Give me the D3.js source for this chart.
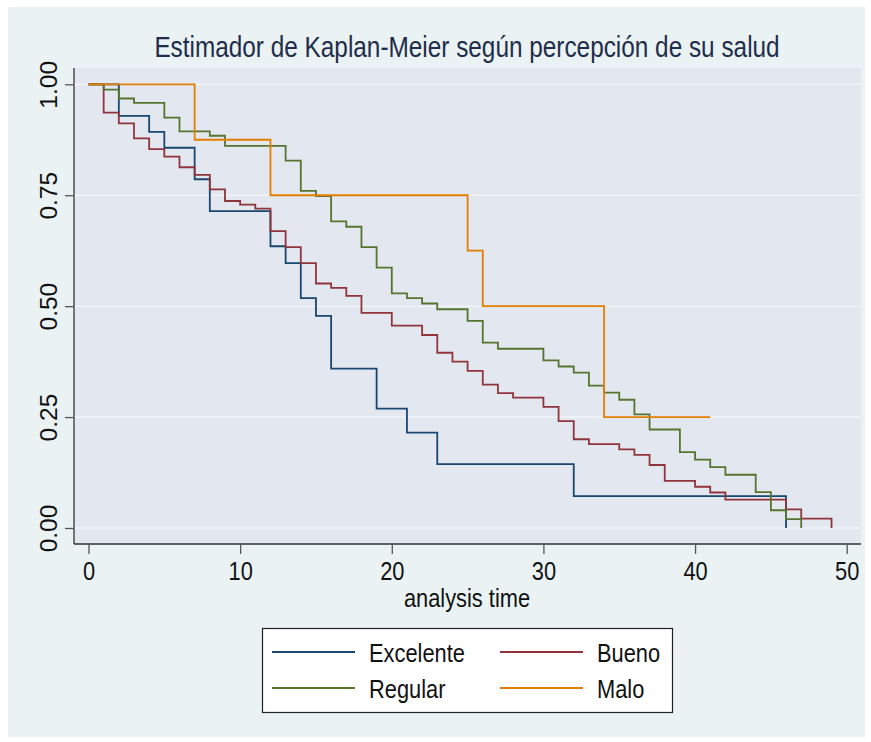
<!DOCTYPE html>
<html>
<head>
<meta charset="utf-8">
<script src="https://cdn.jsdelivr.net/npm/d3@7"></script>
<style>
  body { margin: 0; background: #ffffff; }
  svg text { font-family: "Liberation Sans", Arial, sans-serif; fill: #111; }
</style>
</head>
<body>
<script>
var w = 871;
var h = 742;

// survival estimates, [time, S(t)]
var excelente = [[0,1],[2,0.929],[4,0.893],[5,0.857],[7,0.786],[8,0.714],[12,0.635],[13,0.597],[14,0.518],
    [15,0.478],[16,0.359],[19,0.269],[21,0.215],[23,0.144],[32,0.072],[46,0]];
var bueno = [[0,1],[1,0.936],[2,0.912],[3,0.878],[4,0.854],[5,0.837],[6,0.813],[7,0.796],[8,0.763],[9,0.737],
    [10,0.729],[11,0.72],[12,0.669],[13,0.633],[14,0.597],[15,0.551],[16,0.541],[17,0.523],[18,0.485],
    [20,0.456],[22,0.435],[23,0.395],[24,0.375],[25,0.354],[26,0.323],[27,0.304],[28,0.294],[30,0.273],
    [31,0.241],[32,0.2],[33,0.189],[35,0.177],[36,0.165],[37,0.142],[38,0.106],[40,0.093],[41,0.08],
    [42,0.064],[46,0.042],[47,0.021],[49,0]];
var regular = [[0,1],[1,0.988],[2,0.968],[3,0.958],[5,0.925],[6,0.894],[8,0.884],[9,0.861],[13,0.828],
    [14,0.76],[15,0.748],[16,0.691],[17,0.679],[18,0.633],[19,0.587],[20,0.529],[21,0.518],[22,0.506],
    [23,0.493],[25,0.467],[26,0.418],[27,0.404],[30,0.378],[31,0.364],[32,0.35],[33,0.321],[34,0.305],
    [35,0.289],[36,0.256],[37,0.222],[39,0.171],[40,0.154],[41,0.137],[42,0.12],[44,0.081],[45,0.04],
    [46,0.02],[47,0]];
var malo = [[0,1],[7,0.875],[12,0.75],[25,0.625],[26,0.5],[34,0.25],[41,0.25]];

var groups = ['Excelente', 'Bueno', 'Regular', 'Malo'];
var colors = ['#1a476f', '#90353b', '#55752f', '#e37e00'];
var xTicks = [0, 10, 20, 30, 40, 50];
var yTicks = [0, 0.25, 0.5, 0.75, 1];

// horizontal texts in the original are squeezed sideways
var squeeze = 'scale(0.84,1)';

var svg = d3.select('body').append('svg').attr('width', w).attr('height', h);

// backgrounds
svg.append('rect').attr('x', 8).attr('y', 7).attr('width', 857).attr('height', 730).attr('fill', '#eaf2f3');
svg.append('rect').attr('x', 74).attr('y', 68).attr('width', 787).attr('height', 476).attr('fill', '#e2e7f0');

var x = d3.scaleLinear().domain([0, 50]).range([88.5, 846.7]);
var y = d3.scaleLinear().domain([0, 1]).range([528, 84.3]);

// grid
svg.selectAll('.grid').data(yTicks).enter().append('line')
    .attr('x1', 74).attr('x2', 861)
    .attr('y1', function(d) { return y(d); }).attr('y2', function(d) { return y(d); })
    .attr('stroke', '#f2f5f8').attr('stroke-width', 1.5);

// axes
var xAxis = svg.append('g').attr('transform', 'translate(0,544)')
    .call(d3.axisBottom(x).tickValues(xTicks).tickSize(10).tickSizeOuter(0));
xAxis.select('.domain').attr('d', 'M74,0H861').attr('stroke', '#333').attr('stroke-width', 1.3);
xAxis.selectAll('.tick line').attr('stroke', '#555').attr('stroke-width', 1.3);
xAxis.selectAll('.tick text').attr('y', 0).attr('dy', 0)
    .attr('transform', 'translate(0,36) ' + squeeze)
    .attr('font-size', 26).attr('font-family', null).attr('fill', '#111');

var yAxis = svg.append('g').attr('transform', 'translate(74,0)')
    .call(d3.axisLeft(y).tickValues(yTicks).tickFormat(d3.format('.2f')).tickSize(9).tickSizeOuter(0));
yAxis.select('.domain').attr('d', 'M0,68V544').attr('stroke', '#333').attr('stroke-width', 1.3);
yAxis.selectAll('.tick line').attr('stroke', '#555').attr('stroke-width', 1.3);
yAxis.selectAll('.tick text')
    .attr('x', null).attr('dy', 0).attr('text-anchor', 'middle')
    .attr('transform', 'translate(-17,0) rotate(-90)')
    .attr('font-size', 24.5).attr('font-family', null).attr('fill', '#111');

// curves
var line = d3.line()
    .x(function(d) { return x(d[0]); })
    .y(function(d) { return y(d[1]); })
    .curve(d3.curveStepAfter);

var series = [excelente, bueno, regular, malo];
svg.selectAll('.km').data(series).enter().append('path')
    .attr('d', line)
    .attr('fill', 'none')
    .attr('stroke', function(d, i) { return colors[i]; })
    .attr('stroke-width', 1.8);

// titles
svg.append('text').attr('transform', 'translate(467,57) ' + squeeze).attr('text-anchor', 'middle')
    .attr('font-size', 29).style('fill', '#1f2d4a')
    .text('Estimador de Kaplan-Meier según percepción de su salud');
svg.append('text').attr('transform', 'translate(467,607) ' + squeeze).attr('text-anchor', 'middle')
    .attr('font-size', 26).text('analysis time');

// legend
var legend = svg.append('g');
legend.append('rect').attr('x', 262.5).attr('y', 628.5).attr('width', 410).attr('height', 84)
    .attr('fill', '#ffffff').attr('stroke', '#222').attr('stroke-width', 1.2);
var keys = legend.selectAll('.key').data(groups).enter().append('g')
    .attr('transform', function(d, i) {
        return 'translate(' + (i % 2 == 0 ? 272 : 500) + ',' + (i < 2 ? 652 : 688) + ')';
    });
keys.append('line').attr('x1', 0).attr('x2', 83).attr('y1', 0).attr('y2', 0)
    .attr('stroke', function(d, i) { return colors[i]; }).attr('stroke-width', 1.8);
keys.append('text').attr('transform', 'translate(97,9.5) ' + squeeze)
    .attr('font-size', 26).text(function(d) { return d; });
</script>
</body>
</html>
